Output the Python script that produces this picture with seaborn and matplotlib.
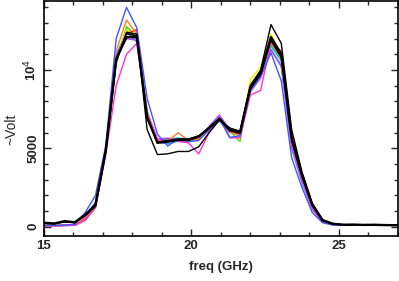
import matplotlib
matplotlib.use("Agg")
import matplotlib.pyplot as plt
from matplotlib.ticker import FixedLocator, MultipleLocator
import seaborn as sns
import pandas as pd

sns.set_theme(style="ticks")
plt.rcParams['font.family'] = ['Liberation Sans', 'DejaVu Sans']

freq = [15.0, 15.35, 15.7, 16.05, 16.4, 16.75, 17.1, 17.45, 17.8, 18.15, 18.5, 18.85,
        19.2, 19.55, 19.9, 20.25, 20.6, 20.95, 21.3, 21.65, 22.0, 22.35, 22.7, 23.05,
        23.4, 23.75, 24.1, 24.45, 24.8, 25.15, 25.5, 25.85, 26.2, 26.55, 26.9, 27.25]

v_blue = [80, 80, 100, 150, 900, 2000, 5200, 12000, 14000, 12700, 8200, 5900, 5150, 5600, 5450, 5500, 6200, 6900, 5700, 5800, 8700, 9600, 11100, 9300, 4400, 2500, 900, 250, 100, 100, 110, 100, 100, 90, 90, 90]
v_orange = [60, 60, 80, 100, 600, 1500, 5000, 11200, 13200, 12300, 7300, 5500, 5450, 6000, 5500, 5600, 6200, 6900, 6050, 5800, 9000, 9900, 11800, 10800, 5400, 3100, 1300, 350, 150, 100, 110, 100, 100, 90, 90, 90]
v_magenta = [50, 50, 70, 80, 400, 1200, 4600, 9000, 11000, 11700, 7200, 5550, 5500, 5450, 5350, 4650, 6000, 7000, 5670, 5670, 8400, 8700, 11800, 10800, 5300, 3000, 1200, 300, 130, 90, 100, 90, 90, 90, 80, 80]
v_green = [60, 60, 80, 90, 400, 1200, 4700, 10300, 12800, 12100, 7200, 5450, 5500, 5500, 5450, 5600, 6200, 6950, 6100, 5430, 9100, 9900, 11700, 10700, 5500, 3200, 1300, 350, 150, 100, 110, 100, 100, 90, 90, 90]
v_yellow = [70, 70, 90, 100, 450, 1300, 4800, 10500, 12600, 12200, 7100, 5400, 5500, 5550, 5500, 5650, 6250, 6900, 6200, 5800, 9400, 10200, 12300, 11000, 5600, 3300, 1350, 380, 160, 110, 120, 100, 110, 90, 90, 90]
v_cyan = [60, 60, 80, 90, 500, 1400, 4900, 10600, 12700, 12000, 7100, 5500, 5600, 5650, 5600, 5700, 6300, 6900, 6300, 5900, 9000, 9800, 11500, 10600, 5500, 3200, 1300, 350, 150, 100, 110, 100, 100, 90, 90, 90]
v_red = [70, 70, 90, 100, 500, 1400, 4900, 10800, 12300, 12600, 7000, 5400, 5500, 5500, 5500, 5700, 6250, 6850, 6100, 5900, 8900, 9900, 11800, 11200, 5700, 3300, 1400, 400, 170, 110, 120, 100, 110, 100, 90, 90]
v_purple = [60, 60, 80, 90, 500, 1500, 5000, 10900, 12000, 11900, 7300, 5600, 5650, 5600, 5600, 5700, 6400, 7130, 6200, 5800, 8600, 9500, 11300, 10300, 5200, 3000, 1200, 320, 140, 100, 110, 100, 100, 90, 90, 90]
v_gray = [70, 70, 90, 100, 550, 1400, 4900, 10700, 12500, 12000, 7000, 5450, 5500, 5550, 5500, 5650, 6250, 6800, 6150, 5900, 8800, 9700, 11600, 10700, 5500, 3200, 1300, 370, 160, 110, 120, 110, 110, 100, 100, 100]
v_lightblue = [60, 60, 80, 100, 600, 1600, 5000, 11000, 12400, 11800, 7400, 5400, 5300, 5450, 5400, 5550, 6150, 6750, 6000, 5850, 8700, 9600, 11300, 10200, 5000, 2800, 1100, 300, 130, 100, 110, 100, 100, 90, 90, 90]
v_teal = [60, 60, 80, 90, 500, 1400, 4850, 10600, 12600, 12100, 7100, 5500, 5550, 5600, 5550, 5650, 6250, 6850, 6250, 5950, 8900, 9800, 11600, 10600, 5400, 3100, 1250, 350, 150, 100, 110, 100, 100, 90, 90, 90]
v_black2 = [220, 190, 320, 260, 730, 1350, 4850, 10600, 12300, 12200, 6900, 5400, 5500, 5600, 5600, 5800, 6300, 6850, 6250, 6050, 8800, 9750, 11900, 10800, 5500, 3200, 1350, 380, 170, 110, 120, 100, 110, 100, 90, 90]
v_black_thin = [200, 180, 300, 250, 700, 1300, 4800, 10500, 12400, 12300, 6200, 4600, 4650, 4800, 4800, 5100, 6000, 6800, 6300, 6100, 9000, 10000, 12900, 11700, 6200, 3500, 1500, 450, 200, 130, 130, 110, 120, 110, 100, 100]
v_black_main = [250, 200, 350, 280, 760, 1400, 4900, 10700, 12100, 12100, 7000, 5350, 5430, 5540, 5540, 5750, 6300, 6900, 6150, 6000, 8900, 9800, 12100, 11000, 5700, 3300, 1400, 400, 180, 120, 130, 110, 120, 100, 90, 90]

series = [
    (v_lightblue, '#3399ff', 1.0),
    (v_teal, '#3fa3a3', 1.0),
    (v_gray, '#8c8c8c', 1.0),
    (v_cyan, '#00cccc', 1.0),
    (v_green, '#66dd00', 1.0),
    (v_yellow, '#eeee00', 1.0),
    (v_red, '#ff2020', 1.0),
    (v_purple, '#aa44ff', 1.0),
    (v_orange, '#ff7f27', 1.0),
    (v_magenta, '#ff33cc', 1.0),
    (v_blue, '#4455ff', 1.0),
    (v_black2, 'black', 1.0),
    (v_black_thin, 'black', 1.0),
    (v_black_main, 'black', 1.7),
]

fig = plt.figure(figsize=(3.99, 2.81), dpi=100)
ax = fig.add_axes([0.110, 0.160, 0.887, 0.836])

for vals, col, lw in series:
    df = pd.DataFrame({'freq': freq, 'v': vals})
    sns.lineplot(data=df, x='freq', y='v', color=col, lw=lw, ax=ax, legend=False)

ax.set_xlim(15, 27)
ax.set_ylim(-600, 14400)
ax.xaxis.set_major_locator(FixedLocator([15, 20, 25]))
ax.xaxis.set_minor_locator(MultipleLocator(1))
ax.yaxis.set_major_locator(FixedLocator([0, 5000, 10000]))
ax.yaxis.set_minor_locator(MultipleLocator(1000))
ax.set_yticklabels(['0', '5000', r'10$^{4}$'], rotation=90, va='center')
ax.tick_params(which='both', direction='in', top=True, right=True, width=1.0, labelsize=9.5)
ax.tick_params(which='major', length=5, pad=3)
ax.tick_params(which='minor', length=3)
for lab in ax.get_xticklabels() + ax.get_yticklabels():
    lab.set_fontweight('bold')
for s in ax.spines.values():
    s.set_linewidth(1.2)
    s.set_color('black')
ax.set_xlabel('freq (GHz)', fontsize=9.5, fontweight='bold', labelpad=6)
ax.set_ylabel('~Volt', fontsize=10)
ax.yaxis.set_label_coords(-0.072, 0.455)

fig.savefig('out.png', dpi=100)
